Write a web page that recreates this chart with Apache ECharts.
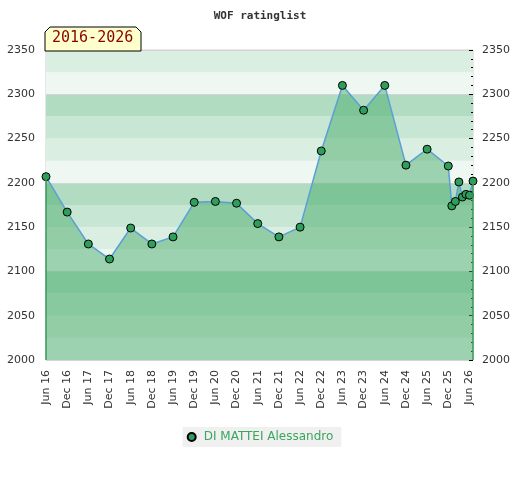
<!DOCTYPE html>
<html style="height: 100%">

<head>
    <meta charset="utf-8">
</head>

<body style="height: 100%; margin: 0; background: #fff">
    <div id="container" style="width: 520px; height: 480px"></div>

    <script src="https://cdn.jsdelivr.net/npm/echarts@6/dist/echarts.min.js" type="text/javascript"></script>

    <script type="text/javascript">
        // months counted from Jun 16
        var months = [0, 6, 12, 18, 24, 30, 36, 42, 48, 54, 60, 66, 72, 78, 84, 90, 96, 102, 108, 114,
            115, 116, 117, 118, 119, 120, 121];
        var ratings = [2207, 2167, 2131, 2114, 2149, 2131, 2139, 2178, 2179, 2177, 2154, 2139, 2150, 2236,
            2310, 2282, 2310, 2220, 2238, 2219, 2174, 2179, 2201, 2184, 2187, 2186, 2202];
        var tickLabels = ['Jun 16', 'Dec 16', 'Jun 17', 'Dec 17', 'Jun 18', 'Dec 18', 'Jun 19', 'Dec 19',
            'Jun 20', 'Dec 20', 'Jun 21', 'Dec 21', 'Jun 22', 'Dec 22', 'Jun 23', 'Dec 23', 'Jun 24',
            'Dec 24', 'Jun 25', 'Dec 25', 'Jun 26'];
        var playerName = 'DI MATTEI Alessandro';
        var periodText = '2016-2026';

        var yMin = 2000, yMax = 2350;
        var lastIdx = ratings.length - 1;

        var dom = document.getElementById('container');
        var myChart = echarts.init(dom);

        var labelFont = { color: '#333', fontSize: 11, fontFamily: 'DejaVu Sans' };
        var plainNum = function (v) { return String(v); };

        var option = {
            animation: false,
            textStyle: { fontFamily: 'DejaVu Sans' },
            title: {
                text: 'WOF ratinglist',
                left: 'center',
                top: 6,
                textStyle: { fontFamily: 'DejaVu Sans Mono', fontSize: 11, fontWeight: 'bold', color: '#333' }
            },
            legend: {
                bottom: 33,
                left: 'center',
                icon: 'circle',
                itemWidth: 14,
                itemHeight: 8,
                padding: [4, 8, 4, 4],
                backgroundColor: '#f0f0f0',
                textStyle: { color: '#3aa65c', fontSize: 12, fontFamily: 'DejaVu Sans' },
                data: [playerName]
            },
            grid: {
                left: 46, right: 47, top: 50, bottom: 120,
                show: true,
                borderColor: '#d0d0d0',
                borderWidth: 1
            },
            xAxis: {
                type: 'value',
                min: 0,
                max: 121,
                interval: 6,
                axisLine: { show: false },
                axisTick: { show: false },
                splitLine: { show: false },
                axisLabel: Object.assign({
                    rotate: 90,
                    margin: 10,
                    showMaxLabel: true,
                    formatter: function (v) {
                        return v % 6 === 0 ? tickLabels[v / 6] : '';
                    }
                }, labelFont)
            },
            yAxis: [
                {
                    type: 'value', position: 'left', min: yMin, max: yMax, interval: 50,
                    axisLine: { show: false }, axisTick: { show: false }, splitLine: { show: false },
                    axisLabel: Object.assign({ margin: 11, formatter: plainNum }, labelFont)
                },
                {
                    type: 'value', position: 'right', min: yMin, max: yMax, interval: 50,
                    axisLine: { show: false },
                    axisTick: { show: true, inside: true, length: 4, lineStyle: { color: '#000' } },
                    minorTick: { show: true, splitNumber: 5, length: 2, lineStyle: { color: '#000' } },
                    splitLine: { show: false },
                    axisLabel: Object.assign({ margin: 9, formatter: plainNum }, labelFont)
                },
                {
                    // background bands
                    type: 'value', position: 'left', min: yMin, max: yMax, interval: 25,
                    axisLine: { show: false }, axisTick: { show: false }, axisLabel: { show: false },
                    splitLine: { show: false },
                    splitArea: { show: true, areaStyle: { color: ['#eef7f1', '#daeee1', '#c7e6d3', '#b2dcc2'] } }
                },
                {
                    type: 'value', position: 'left', min: yMin, max: yMax, interval: 100,
                    axisLine: { show: false }, axisTick: { show: false }, axisLabel: { show: false },
                    splitLine: { show: true, lineStyle: { color: '#d4d4d4', width: 1 } }
                }
            ],
            series: [
                {
                    name: playerName,
                    type: 'line',
                    yAxisIndex: 0,
                    data: months.map(function (m, i) { return [m, ratings[i]]; }),
                    symbol: 'circle',
                    symbolSize: 8,
                    itemStyle: { color: '#2f9e5b', borderColor: '#000', borderWidth: 1 },
                    lineStyle: { color: '#5a9fd6', width: 1.5 },
                    areaStyle: { origin: 'start', color: 'rgba(66,170,102,0.48)', opacity: 1 },
                    markLine: {
                        silent: true,
                        symbol: 'none',
                        label: { show: false },
                        lineStyle: { color: '#3a9a5a', width: 1.5, type: 'solid' },
                        data: [
                            [{ coord: [months[0], yMin] }, { coord: [months[0], ratings[0]] }],
                            [{ coord: [months[lastIdx], yMin] }, { coord: [months[lastIdx], ratings[lastIdx]] }]
                        ]
                    }
                }
            ],
            graphic: [
                {
                    type: 'polygon',
                    shape: { points: [[45, 51], [45, 32], [50, 27], [136, 27], [141, 32], [141, 51]] },
                    style: { fill: '#ffffcc', stroke: '#000', lineWidth: 1 },
                    z: 100
                },
                {
                    type: 'text',
                    left: 52,
                    top: 31,
                    style: { text: periodText, fill: '#8b0000', font: '15px "DejaVu Sans Mono"' },
                    z: 101
                }
            ]
        };

        myChart.setOption(option);
    </script>
</body>

</html>
